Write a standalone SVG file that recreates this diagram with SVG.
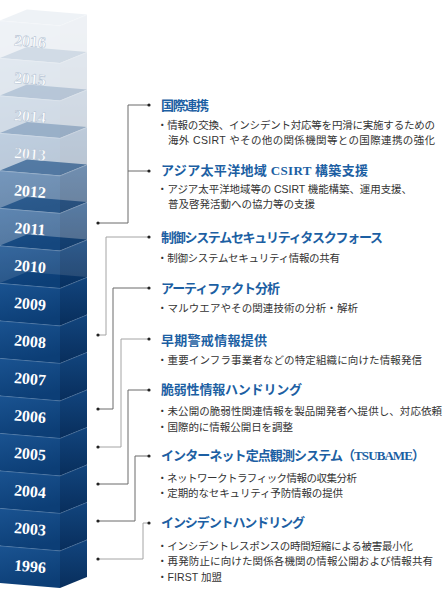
<svg xmlns="http://www.w3.org/2000/svg" xmlns:xlink="http://www.w3.org/1999/xlink" width="444" height="590" viewBox="0 0 444 590">
<style>
.yr{font-family:"Liberation Serif","DejaVu Serif",serif;font-weight:bold;font-size:16px;fill:#fff;text-anchor:middle}
.yf{stroke:#aebdd0;stroke-width:0.5}
.hd{font-family:"Liberation Serif","Noto Sans CJK JP",serif;font-weight:bold;font-size:13px;fill:#1c5fa3}
.bd{font-family:"Liberation Sans","Noto Sans CJK JP",sans-serif;font-size:10.5px;fill:#333}
.cd{fill:none;stroke:#6a6a6a;stroke-width:1}
.cl{fill:none;stroke:#a4a4a4;stroke-width:1}
.dot{fill:#222}
</style>
<defs>
<linearGradient id="gf" x1="0" y1="0" x2="0.3" y2="1">
<stop offset="0" stop-color="#1a5391"/>
<stop offset="1" stop-color="#0c3e76"/>
</linearGradient>
<linearGradient id="gs" x1="0" y1="0" x2="0" y2="1">
<stop offset="0" stop-color="#12457e"/>
<stop offset="1" stop-color="#082e5c"/>
</linearGradient>
<g id="blk">
<polygon points="0,0 27,-11 87,-6 60,5" fill="#0f4883"/>
<polygon points="0,0 60,5 60,42.5 0,37.5" fill="url(#gf)"/>
<polygon points="60,5 87,-6 87,31.5 60,42.5" fill="url(#gs)"/>
<polyline points="0,0.4 60,5.4 87,-5.6" fill="none" stroke="#ffffff" stroke-opacity="0.25" stroke-width="0.8"/>
</g>
</defs>
<rect width="444" height="590" fill="#fff"/>

<g id="y1996"><use xlink:href="#blk" href="#blk" y="545.5"/><text class="yr" x="30" y="571.75" transform="rotate(4.8 30 566.75)">1996</text></g>
<g id="y2003"><use xlink:href="#blk" href="#blk" y="508"/><text class="yr" x="30" y="534.25" transform="rotate(4.8 30 529.25)">2003</text></g>
<g id="y2004"><use xlink:href="#blk" href="#blk" y="470.5"/><text class="yr" x="30" y="496.75" transform="rotate(4.8 30 491.75)">2004</text></g>
<g id="y2005"><use xlink:href="#blk" href="#blk" y="433"/><text class="yr" x="30" y="459.25" transform="rotate(4.8 30 454.25)">2005</text></g>
<g id="y2006"><use xlink:href="#blk" href="#blk" y="395.5"/><text class="yr" x="30" y="421.75" transform="rotate(4.8 30 416.75)">2006</text></g>
<g id="y2007"><use xlink:href="#blk" href="#blk" y="358"/><text class="yr" x="30" y="384.25" transform="rotate(4.8 30 379.25)">2007</text></g>
<g id="y2008"><use xlink:href="#blk" href="#blk" y="320.5"/><text class="yr" x="30" y="346.75" transform="rotate(4.8 30 341.75)">2008</text></g>
<g id="y2009"><use xlink:href="#blk" href="#blk" y="283"/><text class="yr" x="30" y="309.25" transform="rotate(4.8 30 304.25)">2009</text></g>
<g id="y2010"><use xlink:href="#blk" href="#blk" y="245.5" opacity="0.88"/><text class="yr" x="30" y="271.75" transform="rotate(4.8 30 266.75)">2010</text></g>
<g id="y2011"><use xlink:href="#blk" href="#blk" y="208" opacity="0.7"/><text class="yr" x="30" y="234.25" transform="rotate(4.8 30 229.25)">2011</text></g>
<g id="y2012"><use xlink:href="#blk" href="#blk" y="170.5" opacity="0.6"/><text class="yr" x="30" y="196.75" transform="rotate(4.8 30 191.75)">2012</text></g>
<g id="y2013"><use xlink:href="#blk" href="#blk" y="133" opacity="0.28"/><text class="yr yf" x="30" y="159.25" transform="rotate(4.8 30 154.25)">2013</text></g>
<g id="y2014"><use xlink:href="#blk" href="#blk" y="95.5" opacity="0.19"/><text class="yr yf" x="30" y="121.75" transform="rotate(4.8 30 116.75)">2014</text></g>
<g id="y2015"><use xlink:href="#blk" href="#blk" y="58" opacity="0.125"/><text class="yr yf" x="30" y="84.25" transform="rotate(4.8 30 79.25)">2015</text></g>
<g id="y2016"><use xlink:href="#blk" href="#blk" y="20.5" opacity="0.065"/><text class="yr yf" x="30" y="46.75" transform="rotate(4.8 30 41.75)">2016</text></g>

<g id="connectors">
<polyline class="cd" points="98,223 128,223 128,105 149,105"/>
<polyline class="cd" points="128,171 149,171"/>
<polyline class="cl" points="98,335 106,335 106,237 149,237"/>
<polyline class="cd" points="98,409 113,409 113,288 149,288"/>
<polyline class="cl" points="98,447 121,447 121,339 149,339"/>
<polyline class="cd" points="98,484 128,484 128,390 149,390"/>
<polyline class="cd" points="98,521 135,521 135,456 149,456"/>
<polyline class="cl" points="98,559 143,559 143,523 149,523"/>
<g class="dot">
<circle cx="98" cy="223" r="1.6"/><circle cx="98" cy="335" r="1.6"/><circle cx="98" cy="409" r="1.6"/><circle cx="98" cy="447" r="1.6"/>
<circle cx="98" cy="484" r="1.6"/><circle cx="98" cy="521" r="1.6"/><circle cx="98" cy="559" r="1.6"/>
<circle cx="149" cy="105" r="1.6"/><circle cx="149" cy="171" r="1.6"/><circle cx="149" cy="237" r="1.6"/><circle cx="149" cy="288" r="1.6"/>
<circle cx="149" cy="339" r="1.6"/><circle cx="149" cy="390" r="1.6"/><circle cx="149" cy="456" r="1.6"/><circle cx="149" cy="523" r="1.6"/>
</g>
</g>

<g id="n-kokusai">
<text class="hd" x="161" y="110" textLength="48">国際連携</text>
<text class="bd" x="157" y="129" textLength="278">・情報の交換、インシデント対応等を円滑に実施するための</text>
<text class="bd" x="168" y="144" textLength="267">海外 CSIRT やその他の関係機関等との国際連携の強化</text>
</g>
<g id="n-asia">
<text class="hd" x="161" y="175" textLength="207">アジア太平洋地域 CSIRT 構築支援</text>
<text class="bd" x="157" y="193" textLength="255">・アジア太平洋地域等の CSIRT 機能構築、運用支援、</text>
<text class="bd" x="168" y="208">普及啓発活動への協力等の支援</text>
</g>
<g id="n-seigyo">
<text class="hd" x="161" y="242" textLength="222">制御システムセキュリティタスクフォース</text>
<text class="bd" x="157" y="262" textLength="183">・制御システムセキュリティ情報の共有</text>
</g>
<g id="n-artifact">
<text class="hd" x="161" y="293" textLength="119">アーティファクト分析</text>
<text class="bd" x="157" y="312" textLength="201">・マルウエアやその関連技術の分析・解析</text>
</g>
<g id="n-souki">
<text class="hd" x="161" y="345" textLength="106">早期警戒情報提供</text>
<text class="bd" x="157" y="364" textLength="265">・重要インフラ事業者などの特定組織に向けた情報発信</text>
</g>
<g id="n-zeijaku">
<text class="hd" x="161" y="394" textLength="141">脆弱性情報ハンドリング</text>
<text class="bd" x="157" y="415" textLength="285">・未公開の脆弱性関連情報を製品開発者へ提供し、対応依頼</text>
<text class="bd" x="157" y="431" textLength="136">・国際的に情報公開日を調整</text>
</g>
<g id="n-tsubame">
<text class="hd" x="161" y="460" textLength="264">インターネット定点観測システム（TSUBAME）</text>
<text class="bd" x="157" y="482" textLength="200">・ネットワークトラフィック情報の収集分析</text>
<text class="bd" x="157" y="497" textLength="186">・定期的なセキュリティ予防情報の提供</text>
</g>
<g id="n-incident">
<text class="hd" x="161" y="527" textLength="144">インシデントハンドリング</text>
<text class="bd" x="157" y="550" textLength="256">・インシデントレスポンスの時間短縮による被害最小化</text>
<text class="bd" x="157" y="565" textLength="276">・再発防止に向けた関係各機関の情報公開および情報共有</text>
<text class="bd" x="157" y="581" textLength="65">・FIRST 加盟</text>
</g>
</svg>
